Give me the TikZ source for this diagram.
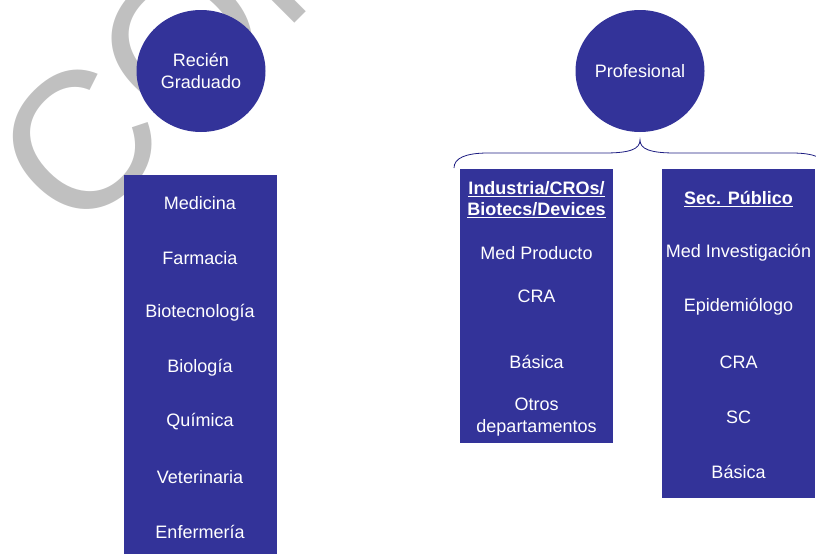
\documentclass[tikz,border=0pt]{standalone}
\usepackage{fontspec}
\setmainfont{Liberation Sans}
\usepackage{tikz}
\usetikzlibrary{shapes.geometric}
\usepackage{xcolor}
\definecolor{boxblue}{RGB}{51,51,153}
\definecolor{bracecol}{RGB}{30,30,130}
\definecolor{markgray}{RGB}{192,192,192}

\begin{document}
\begin{tikzpicture}[x=1pt, y=-1pt,
  bubble/.style={ellipse, fill=boxblue, minimum width=129, minimum height=122, inner sep=0, text=white, align=center, font=\fontsize{18}{21.6}\selectfont},
  panel/.style={rectangle, fill=boxblue, minimum width=153, inner sep=0},
  item/.style={text=white, align=center, inner sep=0, font=\fontsize{18}{21.6}\selectfont},
  head/.style={item, font=\fontsize{18}{21}\selectfont\bfseries}]
\useasboundingbox (0,0) rectangle (816,554);
\begin{scope}
\clip (0,0) rectangle (816,554);
\node[rotate=45, anchor=base west, inner sep=0, text=markgray, font=\fontsize{195}{195}\selectfont] (marca) at (77,241) {CONFIDENCIAL};
\end{scope}
\node[bubble] (graduado) at (201,71) {Recién\\Graduado};
\node[bubble] (profesional) at (640,71) {Profesional};
\node[panel, minimum height=379] (estudios) at (200.5,364.5) {};
\node[panel, minimum height=274] (industria) at (536.5,306) {};
\node[panel, minimum height=329] (publico) at (738.5,333.5) {};
\coordinate (llave-izq) at (454,168);
\coordinate (llave-punta) at (640,140);
\coordinate (llave-der) at (826,168);
\draw[bracecol, line width=0.8] (llave-izq) .. controls (454,158) and (466,153) .. (488,153) -- (605,153) .. controls (630,153) and (640,149) .. (llave-punta) .. controls (640,149) and (650,153) .. (675,153) -- (792,153) .. controls (814,153) and (826,158) .. (llave-der);
\node[item] (medicina) at (200,203) {Medicina};
\node[item] (farmacia) at (200,258) {Farmacia};
\node[item] (biotec) at (200,313) {Biotecnología};
\node[item] (biologia) at (200,368) {Biología};
\node[item] (quimica) at (200,422) {Química};
\node[item] (veterinaria) at (200,477) {Veterinaria};
\node[item] (enfermeria) at (200,532) {Enfermería};
\node[head] (ind-titulo) at (536.5,200) {\underline{Industria/CROs/}\\\underline{Biotecs/Devices}};
\node[item] (med-producto) at (536.5,253) {Med Producto};
\node[item] (cra-ind) at (536.5,296) {CRA};
\node[item] (basica-ind) at (536.5,362) {Básica};
\node[item] (otros) at (536.5,417) {Otros\\departamentos};
\node[head] (pub-titulo) at (738.5,199) {\underline{Sec. Público}};
\node[item] (med-inv) at (738.5,253) {Med Investigación};
\node[item] (epidemiologo) at (738.5,307) {Epidemiólogo};
\node[item] (cra-pub) at (738.5,362) {CRA};
\node[item] (sc) at (738.5,417) {SC};
\node[item] (basica-pub) at (738.5,472) {Básica};
\end{tikzpicture}
\end{document}
